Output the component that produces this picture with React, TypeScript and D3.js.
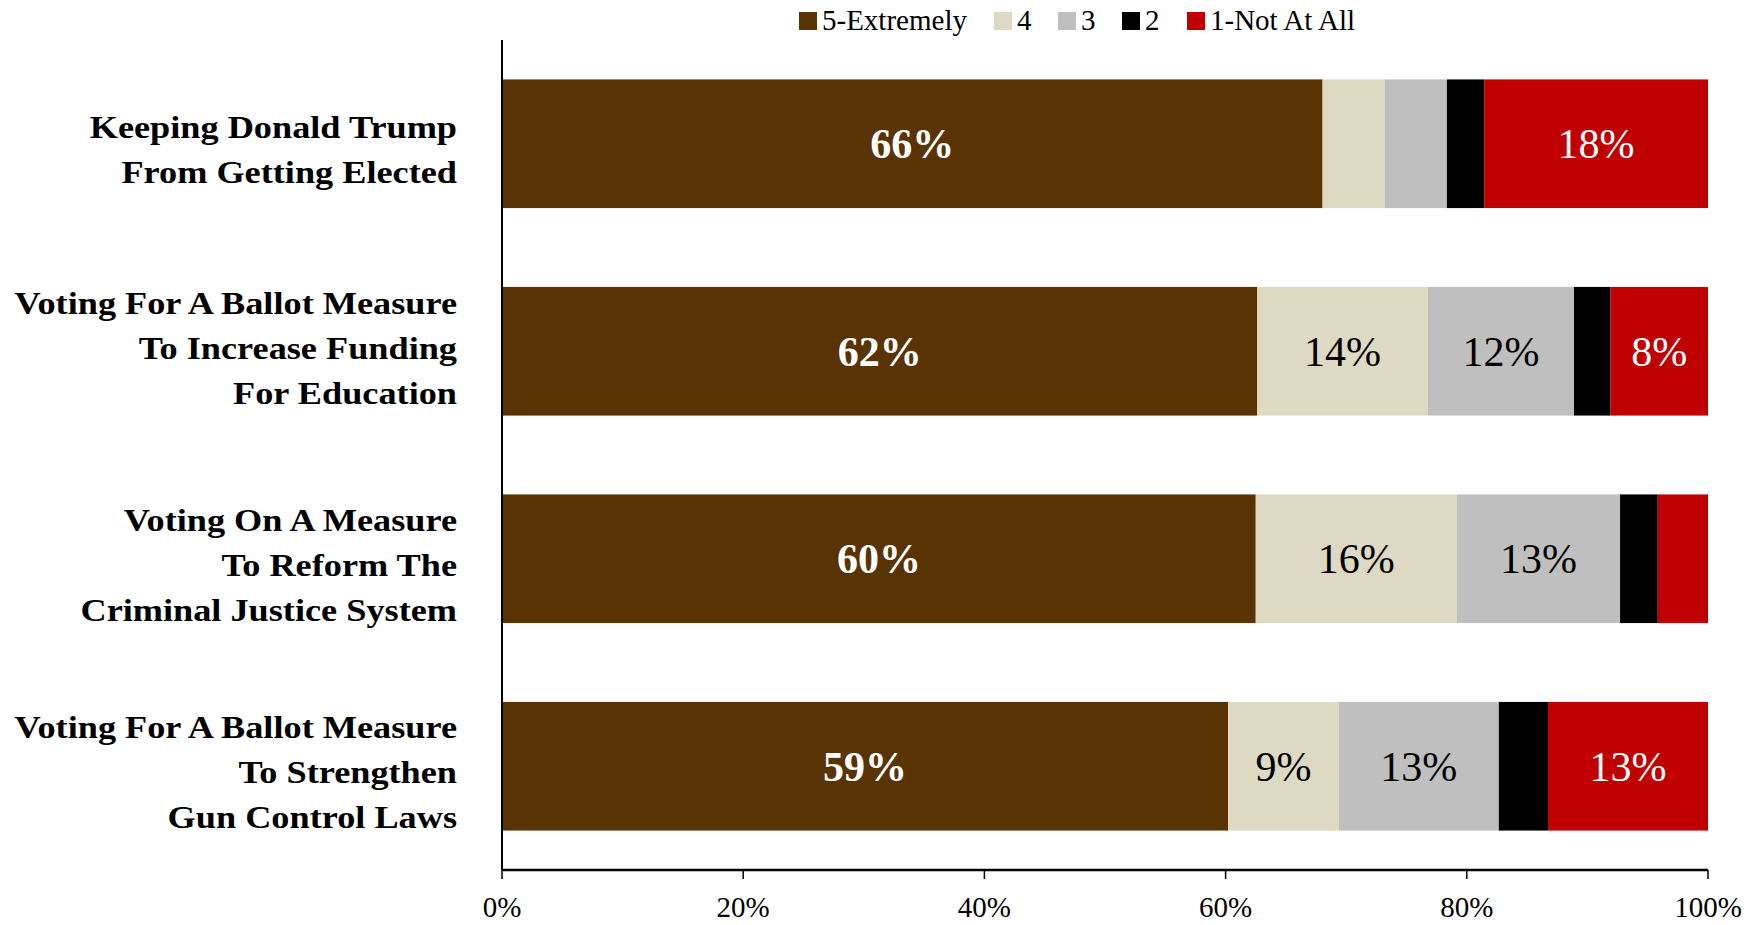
import React from "react";
import * as d3 from "d3";

const categories = [
  ["Keeping Donald Trump", "From Getting Elected"],
  ["Voting For A Ballot Measure", "To Increase Funding", "For Education"],
  ["Voting On A Measure", "To Reform The", "Criminal Justice System"],
  ["Voting For A Ballot Measure", "To Strengthen", "Gun Control Laws"],
];
const seriesNames = ["5-Extremely", "4", "3", "2", "1-Not At All"];
const seriesColors = ["#5A3304", "#DDD9C3", "#BFBFBF", "#000000", "#C00000"];
const labelColors = ["#FFFFFF", "#000000", "#000000", "#FFFFFF", "#FFFFFF"];
const extremely = [66, 62, 60, 59];
const four = [5, 14, 16, 9];
const three = [5, 12, 13, 13];
const two = [3, 3, 3, 4];
const notAtAll = [18, 8, 4, 13];
const ticks = [0, 0.2, 0.4, 0.6, 0.8, 1];

const W = 1760;
const H = 925;
const FONT = "'Liberation Serif', 'Times New Roman', serif";
const LABEL_NUDGE = [6, -3, 6, 6];

export default function App() {
  const series = [extremely, four, three, two, notAtAll];
  const keys = categories.map((c) => c.join(" "));
  const x = d3.scaleLinear().domain([0, 1]).range([502, 1708]);
  const y = d3.scaleBand<string>().domain(keys).range([40, 870]).paddingInner(0.38).paddingOuter(0.19);

  const rows = keys.map((k, i) => {
    const vals = series.map((s) => s[i]);
    const total = d3.sum(vals);
    let acc = 0;
    return vals.map((v, j) => {
      const x0 = acc / total;
      acc += v;
      const x1 = acc / total;
      return { key: k, j, v, x0, x1 };
    });
  });

  const legendX = [799, 994, 1058, 1122, 1187];

  return (
    <svg width={W} height={H} style={{ position: "absolute", left: 0, top: 0, background: "#fff" }} fontFamily={FONT}>
      {/* legend */}
      {seriesNames.map((n, j) => (
        <g key={n}>
          <rect x={legendX[j]} y={12} width={18} height={18} fill={seriesColors[j]} />
          <text x={legendX[j] + 23} y={30} fontSize={29} fill="#000">{n}</text>
        </g>
      ))}
      {/* bars */}
      {rows.map((segs, i) => (
        <g key={i}>
          {segs.map((s) => (
            <rect key={s.j} x={x(s.x0)} y={y(s.key)} width={x(s.x1) - x(s.x0)} height={y.bandwidth()} fill={seriesColors[s.j]} />
          ))}
          {segs.filter((s) => s.v >= 8).map((s) => (
            <text key={"t" + s.j} x={(x(s.x0) + x(s.x1)) / 2} y={(y(s.key) as number) + y.bandwidth() / 2}
              dy="0.35em" textAnchor="middle" fontSize={42} fontWeight={s.j === 0 ? "bold" : "normal"} fill={labelColors[s.j]}>
              {s.v}%
            </text>
          ))}
        </g>
      ))}
      {/* category labels */}
      {categories.map((lines, i) => {
        const cy = (y(keys[i]) as number) + y.bandwidth() / 2 + LABEL_NUDGE[i];
        const lh = 45;
        return (
          <text key={i} textAnchor="end" fontSize={31} fontWeight="bold" fill="#000"
            transform={`translate(457,0) scale(1.17,1)`}>
            {lines.map((l, k) => (
              <tspan key={k} x={0} y={cy + (k - (lines.length - 1) / 2) * lh} dy="0.35em">{l}</tspan>
            ))}
          </text>
        );
      })}
      {/* axes */}
      <line x1={x(0)} x2={x(0)} y1={40} y2={870} stroke="#000" strokeWidth={2} />
      <line x1={x(0)} x2={x(1)} y1={870} y2={870} stroke="#000" strokeWidth={2.5} />
      {ticks.map((t) => (
        <g key={t}>
          <line x1={x(t)} x2={x(t)} y1={870} y2={879} stroke="#000" strokeWidth={1.5} />
          <text x={x(t)} y={907} dy="0.35em" textAnchor="middle" fontSize={29} fill="#000">
            {d3.format(".0%")(t)}
          </text>
        </g>
      ))}
    </svg>
  );
}
